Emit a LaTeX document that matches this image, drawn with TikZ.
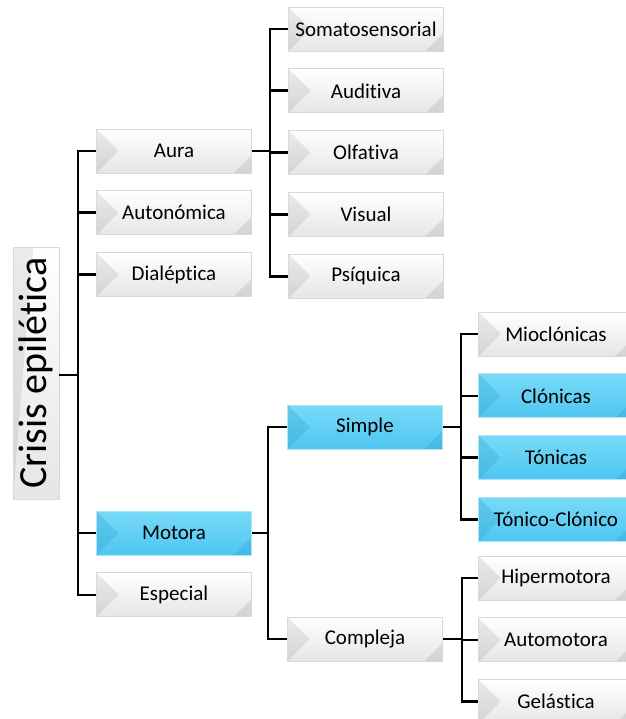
\documentclass[tikz,border=0pt]{standalone}
\usepackage{fontspec}
\setmainfont{Carlito}[Ligatures=NoCommon]
\usepackage{xcolor}
\usetikzlibrary{positioning}

\definecolor{cielo}{RGB}{78,198,240}
\definecolor{cielotop}{RGB}{120,218,248}
\definecolor{cielodark}{RGB}{40,150,200}

\begin{document}
\begin{tikzpicture}[
  x=1pt, y=1pt,
  node distance=17pt,
  box/.style={draw=gray!30, line width=0.8pt, top color=white, bottom color=gray!20,
              minimum width=155pt, minimum height=44pt, inner sep=0pt,
              font=\fontsize{21}{25}\selectfont,
              path picture={
                \fill[black, opacity=0.08] (path picture bounding box.north west)
                  -- ++(22pt,-22pt) -- (path picture bounding box.south west) -- cycle;
                \fill[black, opacity=0.08] (path picture bounding box.south east)
                  -- ++(0,18pt) -- ++(-18pt,-18pt) -- cycle;
              }},
  hot/.style={box, draw=cielo!45, top color=cielotop, bottom color=cielo,
              path picture={
                \fill[cielodark, opacity=0.25] (path picture bounding box.north west)
                  -- ++(22pt,-22pt) -- (path picture bounding box.south west) -- cycle;
                \fill[cielodark, opacity=0.25] (path picture bounding box.south east)
                  -- ++(0,18pt) -- ++(-18pt,-18pt) -- cycle;
              }},
  rootbox/.style={box, minimum width=252pt, minimum height=46pt,
                  font=\fontsize{40}{44}\selectfont},
  link/.style={line width=2.6pt, black},
]
\useasboundingbox (0,0) rectangle (625,-719);

% tronco
\node[rootbox, rotate=90] (crisis) at (36,-373) {Crisis epilética};

% primer nivel
\node[box] (aura) at (174,-151) {Aura};
\node[box, below=of aura] (autonomica) {Autonómica};
\node[box, below=of autonomica] (dialeptica) {Dialéptica};
\node[hot] (motora) at (174,-533) {Motora};
\node[box, below=of motora] (especial) {Especial};

% aura
\node[box] (soma) at (366,-29) {Somatosensorial};
\node[box, below=of soma] (auditiva) {Auditiva};
\node[box, below=of auditiva] (olfativa) {Olfativa};
\node[box, below=of olfativa] (visual) {Visual};
\node[box, below=of visual] (psiquica) {Psíquica};

% motora
\node[hot] (simple) at (365,-427) {Simple};
\node[box] (compleja) at (365,-639) {Compleja};

\node[box] (mioclonicas) at (556,-334) {Mioclónicas};
\node[hot, below=of mioclonicas] (clonicas) {Clónicas};
\node[hot, below=of clonicas] (tonicas) {Tónicas};
\node[hot, below=of tonicas] (tonclon) {Tónico-Clónico};

\node[box] (hiper) at (556,-578) {Hipermotora};
\node[box, below=of hiper] (automotora) {Automotora};
\node[box, below=of automotora] (gelastica) {Gelástica};

% uniones
\coordinate (j0) at (78,-375);
\coordinate (j1) at (270,-151);
\coordinate (j2) at (268,-533);
\coordinate (j3) at (461,-427);
\coordinate (j4) at (462,-639);

\draw[link] (crisis.south |- j0) -- (j0);
\foreach \n in {aura,autonomica,dialeptica,motora,especial}
  \draw[link] (j0) |- (\n.west);

\draw[link] (aura.east) -- (j1);
\foreach \n in {soma,auditiva,olfativa,visual,psiquica}
  \draw[link] (j1) |- (\n.west);

\draw[link] (motora.east) -- (j2);
\foreach \n in {simple,compleja}
  \draw[link] (j2) |- (\n.west);

\draw[link] (simple.east) -- (j3);
\foreach \n in {mioclonicas,clonicas,tonicas,tonclon}
  \draw[link] (j3) |- (\n.west);

\draw[link] (compleja.east) -- (j4);
\foreach \n in {hiper,automotora,gelastica}
  \draw[link] (j4) |- (\n.west);
\end{tikzpicture}
\end{document}
